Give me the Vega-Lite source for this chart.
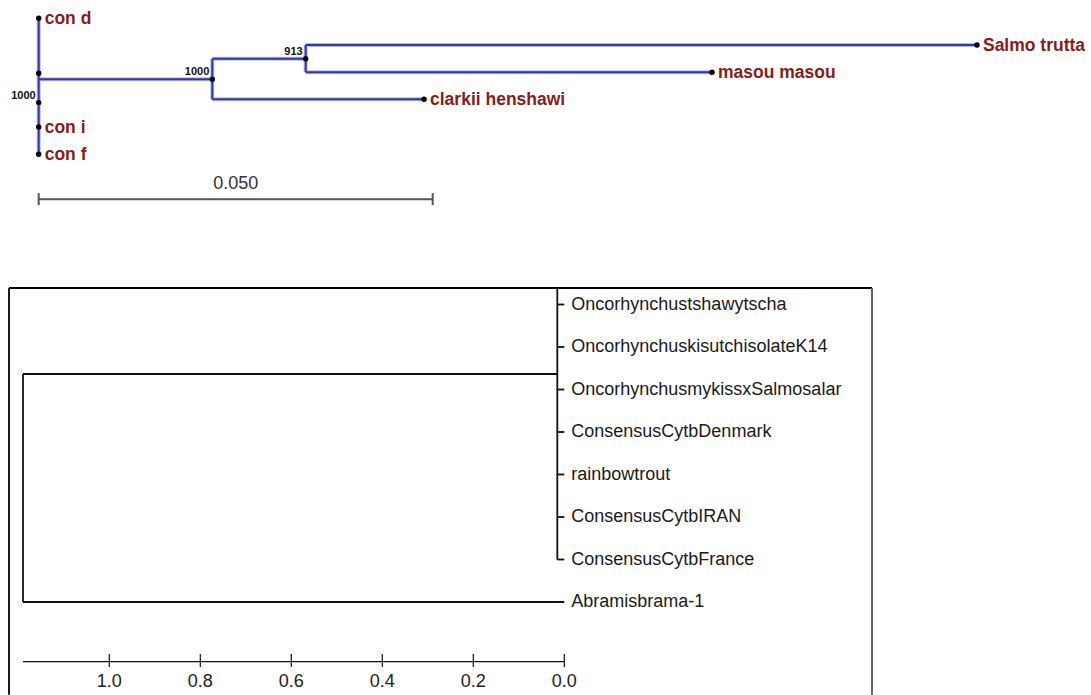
{
  "$schema": "https://vega.github.io/schema/vega-lite/v6.json",
  "width": 1091,
  "height": 695,
  "padding": 0,
  "autosize": {"type": "fit", "contains": "padding"},
  "background": "white",
  "config": {"view": {"stroke": null}},
  "datasets": {
    "topEdges": [
      {"d": 0, "d2": 0, "row": 0, "row2": 5},
      {"d": 0, "d2": 0.02203, "row": 2.24, "row2": 2.24},
      {"d": 0.02203, "d2": 0.02203, "row": 1.49, "row2": 2.98},
      {"d": 0.02203, "d2": 0.03388, "row": 1.49, "row2": 1.49},
      {"d": 0.03388, "d2": 0.03388, "row": 0.98, "row2": 1.98},
      {"d": 0.03388, "d2": 0.11907, "row": 0.98, "row2": 0.98},
      {"d": 0.03388, "d2": 0.08544, "row": 1.98, "row2": 1.98},
      {"d": 0.02203, "d2": 0.0489, "row": 2.98, "row2": 2.98}
    ],
    "topNodes": [
      {"name": "con d", "boot": "", "d": 0, "row": 0},
      {"name": "", "boot": "", "d": 0, "row": 2.02},
      {"name": "", "boot": "1000", "d": 0, "row": 3.1},
      {"name": "con i", "boot": "", "d": 0, "row": 4.0},
      {"name": "con f", "boot": "", "d": 0, "row": 5},
      {"name": "", "boot": "1000", "d": 0.02203, "row": 2.24},
      {"name": "", "boot": "913", "d": 0.03388, "row": 1.49},
      {"name": "Salmo trutta", "boot": "", "d": 0.11907, "row": 0.98},
      {"name": "masou masou", "boot": "", "d": 0.08544, "row": 1.98},
      {"name": "clarkii henshawi", "boot": "", "d": 0.0489, "row": 2.98}
    ],
    "scaleBar": [
      {"d": 0, "d2": 0.05, "row": 6.654, "row2": 6.654},
      {"d": 0, "d2": 0, "row": 6.43, "row2": 6.87},
      {"d": 0.05, "d2": 0.05, "row": 6.43, "row2": 6.87}
    ],
    "scaleLabel": [{"label": "0.050", "d": 0.025, "row": 6.654}],
    "botEdges": [
      {"h": 0.01538, "h2": 0.01538, "r": -0.39, "r2": 6},
      {"h": 0.01538, "h2": 0, "r": 0, "r2": 0},
      {"h": 0.01538, "h2": 0, "r": 1, "r2": 1},
      {"h": 0.01538, "h2": 0, "r": 2, "r2": 2},
      {"h": 0.01538, "h2": 0, "r": 3, "r2": 3},
      {"h": 0.01538, "h2": 0, "r": 4, "r2": 4},
      {"h": 0.01538, "h2": 0, "r": 5, "r2": 5},
      {"h": 0.01538, "h2": 0, "r": 6, "r2": 6},
      {"h": 1.1897, "h2": 0.01538, "r": 1.635, "r2": 1.635},
      {"h": 1.1897, "h2": 1.1897, "r": 1.635, "r2": 7},
      {"h": 1.1897, "h2": 0, "r": 7, "r2": 7}
    ],
    "leaves": [
      {"name": "Oncorhynchustshawytscha", "h": 0, "r": 0},
      {"name": "OncorhynchuskisutchisolateK14", "h": 0, "r": 1},
      {"name": "OncorhynchusmykissxSalmosalar", "h": 0, "r": 2},
      {"name": "ConsensusCytbDenmark", "h": 0, "r": 3},
      {"name": "rainbowtrout", "h": 0, "r": 4},
      {"name": "ConsensusCytbIRAN", "h": 0, "r": 5},
      {"name": "ConsensusCytbFrance", "h": 0, "r": 6},
      {"name": "Abramisbrama-1", "h": 0, "r": 7}
    ],
    "axisParts": [
      {"h": 1.1897, "h2": 0, "r": 8.405, "r2": 8.405},
      {"h": 1.0, "h2": 1.0, "r": 8.224, "r2": 8.53},
      {"h": 0.8, "h2": 0.8, "r": 8.224, "r2": 8.53},
      {"h": 0.6, "h2": 0.6, "r": 8.224, "r2": 8.53},
      {"h": 0.4, "h2": 0.4, "r": 8.224, "r2": 8.53},
      {"h": 0.2, "h2": 0.2, "r": 8.224, "r2": 8.53},
      {"h": 0.0, "h2": 0.0, "r": 8.224, "r2": 8.53}
    ],
    "axisLabels": [
      {"label": "1.0", "h": 1.0, "r": 8.882},
      {"label": "0.8", "h": 0.8, "r": 8.882},
      {"label": "0.6", "h": 0.6, "r": 8.882},
      {"label": "0.4", "h": 0.4, "r": 8.882},
      {"label": "0.2", "h": 0.2, "r": 8.882},
      {"label": "0.0", "h": 0.0, "r": 8.882}
    ],
    "box": [
      {"side": "top", "h": 1.2204, "h2": -0.6763, "r": -0.388, "r2": -0.388},
      {"side": "left", "h": 1.2204, "h2": 1.2204, "r": -0.388, "r2": 9.18},
      {"side": "right", "h": -0.6763, "h2": -0.6763, "r": -0.388, "r2": 9.18}
    ]
  },
  "resolve": {"scale": {"x": "independent", "y": "independent"}},
  "layer": [
    {
      "layer": [
        {
          "data": {"name": "topEdges"},
          "mark": {"type": "rule", "color": "#b7bbe6", "strokeWidth": 4},
          "encoding": {
            "x": {"field": "d", "type": "quantitative", "scale": {"domain": [-0.004911, 0.133541], "nice": false, "zero": false}, "axis": null},
            "x2": {"field": "d2"},
            "y": {"field": "row", "type": "quantitative", "scale": {"domain": [-0.6728, 24.879], "reverse": true, "nice": false, "zero": false}, "axis": null},
            "y2": {"field": "row2"}
          }
        },
        {
          "data": {"name": "topEdges"},
          "mark": {"type": "rule", "color": "#3535a3", "strokeWidth": 2},
          "encoding": {
            "x": {"field": "d", "type": "quantitative", "scale": {"domain": [-0.004911, 0.133541], "nice": false, "zero": false}, "axis": null},
            "x2": {"field": "d2"},
            "y": {"field": "row", "type": "quantitative", "scale": {"domain": [-0.6728, 24.879], "reverse": true, "nice": false, "zero": false}, "axis": null},
            "y2": {"field": "row2"}
          }
        },
        {
          "data": {"name": "scaleBar"},
          "mark": {"type": "rule", "color": "#555555", "strokeWidth": 2},
          "encoding": {
            "x": {"field": "d", "type": "quantitative", "scale": {"domain": [-0.004911, 0.133541], "nice": false, "zero": false}, "axis": null},
            "x2": {"field": "d2"},
            "y": {"field": "row", "type": "quantitative", "scale": {"domain": [-0.6728, 24.879], "reverse": true, "nice": false, "zero": false}, "axis": null},
            "y2": {"field": "row2"}
          }
        },
        {
          "data": {"name": "scaleLabel"},
          "mark": {"type": "text", "font": "Liberation Sans", "fontSize": 18, "color": "#333333", "align": "center", "baseline": "middle", "dy": -15},
          "encoding": {
            "x": {"field": "d", "type": "quantitative", "scale": {"domain": [-0.004911, 0.133541], "nice": false, "zero": false}, "axis": null},
            "y": {"field": "row", "type": "quantitative", "scale": {"domain": [-0.6728, 24.879], "reverse": true, "nice": false, "zero": false}, "axis": null},
            "text": {"field": "label"}
          }
        },
        {
          "data": {"name": "topNodes"},
          "mark": {"type": "circle", "color": "#000000", "opacity": 1, "size": 30},
          "encoding": {
            "x": {"field": "d", "type": "quantitative", "scale": {"domain": [-0.004911, 0.133541], "nice": false, "zero": false}, "axis": null},
            "y": {"field": "row", "type": "quantitative", "scale": {"domain": [-0.6728, 24.879], "reverse": true, "nice": false, "zero": false}, "axis": null}
          }
        },
        {
          "data": {"name": "topNodes"},
          "mark": {"type": "text", "font": "Liberation Sans", "fontWeight": "bold", "fontSize": 17.5, "color": "#8b1a1a", "align": "left", "baseline": "middle", "dx": 6, "dy": 1},
          "encoding": {
            "x": {"field": "d", "type": "quantitative", "scale": {"domain": [-0.004911, 0.133541], "nice": false, "zero": false}, "axis": null},
            "y": {"field": "row", "type": "quantitative", "scale": {"domain": [-0.6728, 24.879], "reverse": true, "nice": false, "zero": false}, "axis": null},
            "text": {"field": "name"}
          }
        },
        {
          "data": {"name": "topNodes"},
          "mark": {"type": "text", "font": "Liberation Sans", "fontWeight": "bold", "fontSize": 11, "color": "#111111", "align": "right", "baseline": "middle", "dx": -3, "dy": -7},
          "encoding": {
            "x": {"field": "d", "type": "quantitative", "scale": {"domain": [-0.004911, 0.133541], "nice": false, "zero": false}, "axis": null},
            "y": {"field": "row", "type": "quantitative", "scale": {"domain": [-0.6728, 24.879], "reverse": true, "nice": false, "zero": false}, "axis": null},
            "text": {"field": "boot"}
          }
        }
      ]
    },
    {
      "layer": [
        {
          "data": {"name": "box"},
          "mark": {"type": "rule", "strokeWidth": 2, "clip": true},
          "encoding": {
            "x": {"field": "h", "type": "quantitative", "scale": {"domain": [-1.15758, 1.24022], "reverse": true, "nice": false, "zero": false}, "axis": null},
            "x2": {"field": "h2"},
            "y": {"field": "r", "type": "quantitative", "scale": {"domain": [-7.1647, 9.1882], "reverse": true, "nice": false, "zero": false}, "axis": null},
            "y2": {"field": "r2"},
            "color": {"field": "side", "type": "nominal", "scale": {"domain": ["top", "left", "right"], "range": ["#000000", "#1a1a1a", "#666666"]}, "legend": null}
          }
        },
        {
          "data": {"name": "botEdges"},
          "mark": {"type": "rule", "color": "#111111", "strokeWidth": 1.8},
          "encoding": {
            "x": {"field": "h", "type": "quantitative", "scale": {"domain": [-1.15758, 1.24022], "reverse": true, "nice": false, "zero": false}, "axis": null},
            "x2": {"field": "h2"},
            "y": {"field": "r", "type": "quantitative", "scale": {"domain": [-7.1647, 9.1882], "reverse": true, "nice": false, "zero": false}, "axis": null},
            "y2": {"field": "r2"}
          }
        },
        {
          "data": {"name": "axisParts"},
          "mark": {"type": "rule", "color": "#111111", "strokeWidth": 1.2},
          "encoding": {
            "x": {"field": "h", "type": "quantitative", "scale": {"domain": [-1.15758, 1.24022], "reverse": true, "nice": false, "zero": false}, "axis": null},
            "x2": {"field": "h2"},
            "y": {"field": "r", "type": "quantitative", "scale": {"domain": [-7.1647, 9.1882], "reverse": true, "nice": false, "zero": false}, "axis": null},
            "y2": {"field": "r2"}
          }
        },
        {
          "data": {"name": "axisLabels"},
          "mark": {"type": "text", "font": "Liberation Sans", "fontSize": 18, "color": "#222222", "align": "center", "baseline": "middle"},
          "encoding": {
            "x": {"field": "h", "type": "quantitative", "scale": {"domain": [-1.15758, 1.24022], "reverse": true, "nice": false, "zero": false}, "axis": null},
            "y": {"field": "r", "type": "quantitative", "scale": {"domain": [-7.1647, 9.1882], "reverse": true, "nice": false, "zero": false}, "axis": null},
            "text": {"field": "label"}
          }
        },
        {
          "data": {"name": "leaves"},
          "mark": {"type": "text", "font": "Liberation Sans", "fontSize": 18, "color": "#1a1a1a", "align": "left", "baseline": "middle", "dx": 7},
          "encoding": {
            "x": {"field": "h", "type": "quantitative", "scale": {"domain": [-1.15758, 1.24022], "reverse": true, "nice": false, "zero": false}, "axis": null},
            "y": {"field": "r", "type": "quantitative", "scale": {"domain": [-7.1647, 9.1882], "reverse": true, "nice": false, "zero": false}, "axis": null},
            "text": {"field": "name"}
          }
        }
      ]
    }
  ]
}
